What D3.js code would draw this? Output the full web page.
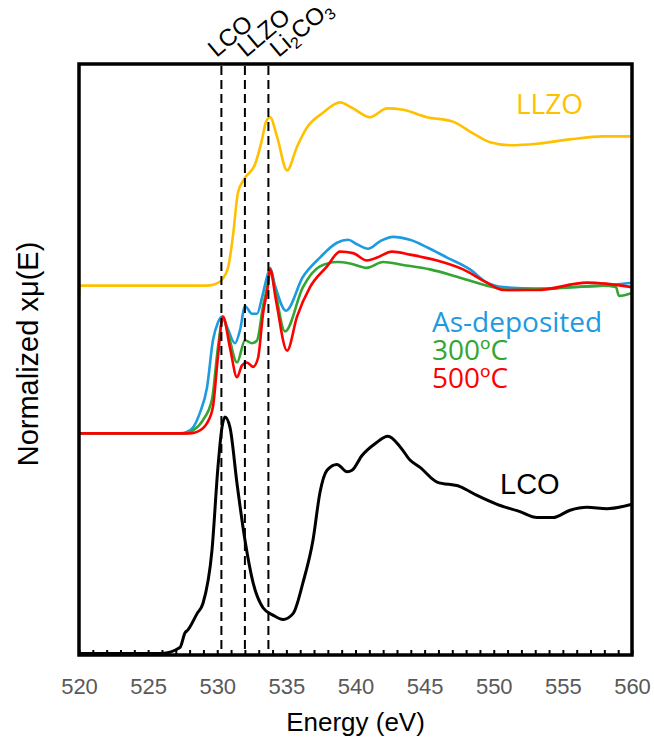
<!DOCTYPE html>
<html>
<head>
<meta charset="utf-8">
<script src="https://cdn.jsdelivr.net/npm/d3@7"></script>
<style>
	body { margin: 0; background: #fff; }
	text { font-family: Arial, "Liberation Sans", sans-serif; }
</style>
</head>
<body>
<div id="chart"></div>
<script>
'use strict'

// energy axis
var xTicks = [520, 525, 530, 535, 540, 545, 550, 555, 560];

// reference lines (eV) and their labels
var refEnergies = [530.3, 532.0, 533.7];
var refNames = ['LCO', 'LLZO', 'Li2CO3'];

// vertical offset of each spectrum (normalized units)
var offsets = { lco: 0, film: 1.5, llzo: 2.5 };

// [eV, normalized xmu]
var lco = [
	[520, 0.01], [526, 0.01], [527.3, 0.05], [527.67, 0.15], [527.88, 0.17], [528.54, 0.28],
	[528.97, 0.35], [529.62, 0.71], [530.05, 1.27], [530.34, 1.54], [530.56, 1.61], [530.92, 1.54],
	[531.43, 1.16], [532.0, 0.78], [532.59, 0.49], [533.31, 0.32], [534.03, 0.27], [534.76, 0.24],
	[535.48, 0.28], [536.2, 0.49], [536.93, 0.78], [537.43, 1.10], [537.94, 1.25], [538.66, 1.29],
	[539.39, 1.24], [539.75, 1.25], [540.47, 1.35], [541.41, 1.43], [542.35, 1.48], [543.22, 1.41],
	[543.94, 1.32], [544.67, 1.27], [545.9, 1.17], [547.56, 1.14], [548.79, 1.08], [550.24, 1.02],
	[551.9, 0.97], [553.13, 0.93], [554.29, 0.93], [555.52, 0.98], [556.75, 1.00], [558.19, 0.99],
	[560, 1.02]
];

var asDeposited = [
	[520, 0], [527.3, 0], [527.81, 0.01], [528.25, 0.04], [528.75, 0.14], [529.26, 0.31],
	[529.69, 0.63], [530.05, 0.75], [530.34, 0.79], [530.71, 0.72], [531.28, 0.61], [531.65, 0.70],
	[532.01, 0.86], [532.51, 0.81], [532.88, 0.81], [533.24, 0.92], [533.6, 1.06], [533.82, 1.12],
	[534.18, 1.00], [534.97, 0.83], [536.2, 1.06], [537.43, 1.19], [538.66, 1.29], [539.46, 1.31],
	[540.11, 1.28], [540.9, 1.25], [541.77, 1.30], [542.71, 1.33], [543.94, 1.31], [545.17, 1.26],
	[546.62, 1.19], [548.28, 1.11], [549.51, 1.02], [550.67, 0.99], [553.13, 0.98], [555.52, 0.99],
	[557.9, 1.00], [560, 1.02]
];

var t300 = [
	[520, 0], [527.74, 0], [528.25, 0.02], [528.97, 0.09], [529.62, 0.23], [530.05, 0.58],
	[530.42, 0.78], [530.78, 0.68], [531.43, 0.48], [532.01, 0.63], [532.51, 0.61], [532.88, 0.63],
	[533.31, 0.86], [533.67, 1.02], [533.82, 1.11], [534.18, 0.97], [534.9, 0.69], [536.2, 0.99],
	[537.43, 1.13], [538.66, 1.16], [539.6, 1.15], [540.83, 1.12], [541.99, 1.16], [543.44, 1.14],
	[545.39, 1.11], [547.34, 1.06], [549.51, 1.00], [551.18, 0.97], [554.29, 0.98], [557.9, 1.00],
	[558.84, 0.99], [559.06, 0.93], [560, 0.95]
];

var t500 = [
	[520, 0], [528.03, 0], [528.54, 0.01], [529.26, 0.07], [529.69, 0.18], [530.05, 0.52],
	[530.42, 0.79], [530.92, 0.58], [531.43, 0.38], [531.79, 0.46], [532.15, 0.48], [532.59, 0.45],
	[532.95, 0.51], [533.31, 0.81], [533.67, 1.00], [533.82, 1.11], [534.25, 0.90], [535.05, 0.56],
	[535.77, 0.79], [536.71, 0.99], [537.94, 1.13], [538.88, 1.23], [539.82, 1.22], [540.83, 1.17],
	[541.56, 1.19], [542.64, 1.23], [543.94, 1.21], [545.9, 1.17], [547.78, 1.11], [549.51, 1.02],
	[550.67, 0.97], [553.13, 0.97], [556.75, 1.02], [560, 0.99]
];

var llzo = [
	[520, -0.07], [520.03, 0], [529.11, 0], [529.84, 0.01], [530.34, 0.04], [530.78, 0.12],
	[531.14, 0.34], [531.5, 0.63], [532.01, 0.73], [532.73, 0.82], [533.24, 0.99], [533.53, 1.11],
	[533.82, 1.14], [534.32, 1.01], [535.05, 0.78], [535.77, 0.94], [536.49, 1.07], [537.65, 1.17],
	[538.88, 1.24], [539.82, 1.20], [541.05, 1.14], [542.28, 1.20], [543.44, 1.19], [545.17, 1.14],
	[547.05, 1.11], [548.5, 1.03], [549.73, 0.97], [551.18, 0.95], [553.13, 0.96], [555.52, 0.99],
	[557.9, 1.01], [560, 1.01]
];

var width = 654;
var height = 744;
var mLeft = 79, mRight = 632, mTop = 64, mBottom = 655;

var svg = d3.select('#chart')
	.append('svg')
	.attr('width', width)
	.attr('height', height);

var x = d3.scaleLinear().domain([520, 560]).range([mLeft, mRight]);
var y = d3.scaleLinear().domain([0, 4]).range([mBottom, mTop]);

function lineFor(off) {
	return d3.line()
		.x(function(d){ return x(d[0]); })
		.y(function(d){ return y(d[1] + off); })
		.curve(d3.curveMonotoneX);
}

var series = [
	{ data: llzo, off: offsets.llzo, color: '#ffc000', w: 2.6 },
	{ data: asDeposited, off: offsets.film, color: '#1e9ae0', w: 2.6 },
	{ data: t300, off: offsets.film, color: '#34a532', w: 2.6 },
	{ data: t500, off: offsets.film, color: '#ff0000', w: 2.6 },
	{ data: lco, off: offsets.lco, color: '#000000', w: 3 }
];

svg.append('g')
	.selectAll('path')
	.data(series)
	.enter()
	.append('path')
		.attr('d', function(d){ return lineFor(d.off)(d.data); })
		.attr('fill', 'none')
		.attr('stroke', function(d){ return d.color; })
		.attr('stroke-width', function(d){ return d.w; })
		.attr('stroke-linejoin', 'round');

// dashed reference lines
svg.append('g')
	.selectAll('line')
	.data(refEnergies)
	.enter()
	.append('line')
		.attr('x1', function(d){ return x(d); })
		.attr('x2', function(d){ return x(d); })
		.attr('y1', mTop + 2)
		.attr('y2', mBottom - 2)
		.attr('stroke', 'black')
		.attr('stroke-width', 2)
		.attr('stroke-dasharray', '9,5');

// labels above the frame
var refText = svg.append('g')
	.selectAll('text')
	.data(refNames)
	.enter()
	.append('text')
		.attr('transform', function(d, i){
			var dx = [-5, 1, 10][i];
			return 'translate(' + (x(refEnergies[i]) + dx) + ',' + (mTop - 6) + ') rotate(-40)';
		})
		.style('font-size', '24px')
		.style('fill', 'black');

refText.each(function(d){
	var t = d3.select(this);
	if (d === 'Li2CO3') {
		t.append('tspan').text('Li');
		t.append('tspan').text('2').style('font-size', '16px').attr('dy', 5);
		t.append('tspan').text('CO').attr('dy', -5);
		t.append('tspan').text('3').style('font-size', '16px').attr('dy', 5);
	} else {
		t.text(d);
	}
});

// bottom axis: inward minor ticks every 1 eV
svg.append('g')
	.attr('transform', 'translate(0,' + mBottom + ')')
	.call(d3.axisTop(x).ticks(40).tickSize(5).tickFormat(''))
	.call(function(g){ g.select('.domain').remove(); })
	.selectAll('line')
		.attr('stroke', 'black')
		.attr('stroke-width', 2);

// tick labels
svg.append('g')
	.attr('transform', 'translate(0,' + mBottom + ')')
	.call(d3.axisBottom(x).tickValues(xTicks).tickSize(0).tickPadding(23).tickFormat(d3.format('d')))
	.call(function(g){ g.select('.domain').remove(); })
	.selectAll('text')
		.style('font-size', '22px')
		.style('font-family', 'Arial, "Liberation Sans", sans-serif')
		.style('fill', '#595959');

// frame
svg.append('rect')
	.attr('x', mLeft)
	.attr('y', mTop)
	.attr('width', mRight - mLeft)
	.attr('height', mBottom - mTop)
	.attr('fill', 'none')
	.attr('stroke', 'black')
	.attr('stroke-width', 3.5);

// axis titles
svg.append('text')
	.attr('x', (mLeft + mRight) / 2)
	.attr('y', 731)
	.attr('text-anchor', 'middle')
	.style('font-size', '26px')
	.text('Energy (eV)');

svg.append('text')
	.attr('transform', 'translate(38,354) rotate(-90)')
	.attr('text-anchor', 'middle')
	.style('font-size', '29px')
	.text('Normalized xμ(E)');

// series labels
var seriesLabels = [
	{ t: 'LLZO', x: 516, y: 114, c: '#ffc000', f: '"Open Sans", sans-serif' },
	{ t: 'As-deposited', x: 432, y: 332, c: '#1e9ae0', f: '"Open Sans", sans-serif' },
	{ t: '300ºC', x: 432, y: 360, c: '#34a532', f: '"Open Sans", sans-serif' },
	{ t: '500ºC', x: 432, y: 388, c: '#ff0000', f: '"Open Sans", sans-serif' },
	{ t: 'LCO', x: 500, y: 494, c: '#000000', f: 'Arial, "Liberation Sans", sans-serif' }
];

svg.append('g')
	.selectAll('text')
	.data(seriesLabels)
	.enter()
	.append('text')
		.attr('x', function(d){ return d.x; })
		.attr('y', function(d){ return d.y; })
		.style('font-family', function(d){ return d.f; })
		.style('font-size', function(d){ return d.t === 'LCO' ? '29px' : '28px'; })
		.style('fill', function(d){ return d.c; })
		.text(function(d){ return d.t; });
</script>
</body>
</html>
